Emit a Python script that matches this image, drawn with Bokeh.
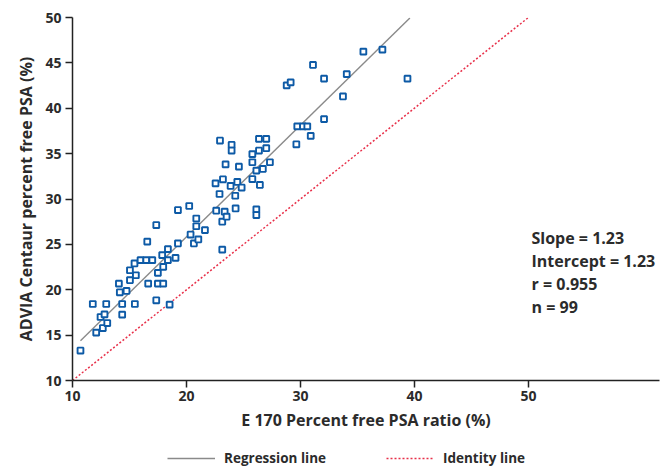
from bokeh.plotting import figure
from bokeh.layouts import column
from bokeh.models import Range1d, FixedTicker, Legend, LegendItem, Label, ColumnDataSource
from bokeh.embed import file_html
from bokeh.resources import INLINE

# ---- data ----
e170 = [10.7, 12.08, 12.66, 13.05, 12.46, 12.81, 11.78, 12.96, 14.36, 15.47,
        14.36, 14.15, 14.74, 14.07, 15.04, 15.56, 15.04, 15.44, 16.64, 17.49,
        17.96, 17.35, 18.52, 17.49, 17.96, 15.97, 16.47, 17.0, 17.87, 18.37,
        18.37, 19.04, 19.25, 16.56, 17.35, 19.25, 20.24, 20.86, 20.86, 20.36,
        20.65, 21.04, 21.62, 22.9, 22.61, 23.35, 23.14, 23.52, 23.14, 22.94,
        23.96, 23.96, 26.36, 27.0, 27.0, 26.36, 25.78, 25.78, 27.32, 26.7,
        26.13, 23.43, 24.6, 25.78, 26.44, 23.2, 22.55, 24.46, 23.87, 24.84,
        24.28, 24.31, 26.13, 26.13, 29.64, 29.72, 30.22, 30.6, 30.9, 32.07,
        33.73, 32.07, 31.1, 34.06, 35.52, 37.19, 39.39, 28.79, 29.14]
advia = [13.3, 15.27, 15.78, 16.33, 17.0, 17.29, 18.43, 18.43, 18.43, 18.43,
         17.26, 19.72, 19.87, 20.68, 21.05, 21.6, 22.15, 22.9, 20.68, 20.68,
         20.68, 18.84, 18.36, 21.86, 22.52, 23.26, 23.26, 23.26, 23.81, 24.48,
         23.26, 23.51, 25.1, 25.3, 27.13, 28.78, 29.23, 27.85, 27.0, 26.08,
         25.1, 25.54, 26.57, 30.55, 28.71, 28.6, 27.5, 28.05, 24.42, 36.44,
         35.97, 35.34, 36.63, 36.63, 35.6, 35.34, 34.94, 34.05, 34.05, 33.31,
         33.13, 33.82, 33.57, 32.2, 31.55, 32.17, 31.72, 31.88, 31.44, 31.26,
         30.36, 28.96, 28.86, 28.23, 36.03, 38.0, 38.0, 38.0, 36.96, 38.8,
         41.3, 43.26, 44.77, 43.76, 46.24, 46.46, 43.26, 42.52, 42.85]

slope = 1.23
intercept = 1.23
reg_x = [10.7, 39.6]
identity_x = [10, 50]

x_ticks = [10, 20, 30, 40, 50]
y_ticks = [10, 15, 20, 25, 30, 35, 40, 45, 50]
stats_lines = ["Slope = 1.23", "Intercept = 1.23", "r = 0.955", "n = 99"]

x_title = "E 170 Percent free PSA ratio (%)"
y_title = "ADVIA Centaur percent free PSA (%)"
legend_labels = ["Regression line", "Identity line"]

FONT = "Open Sans"
TXT = "#2b2b2b"
REG_COLOR = "#8a8a8a"
ID_COLOR = "#e8304a"

p = figure(width=660, height=437, output_backend="svg", toolbar_location=None,
           x_range=Range1d(10, 61.5), y_range=Range1d(10, 50),
           min_border_left=72, min_border_right=1, min_border_top=17,
           min_border_bottom=57)
p.outline_line_color = None
p.xgrid.visible = False
p.ygrid.visible = False
p.background_fill_color = "white"
p.border_fill_color = "white"

for ax in (p.xaxis[0], p.yaxis[0]):
    ax.axis_line_color = "#222222"
    ax.axis_line_width = 1.5
    ax.major_tick_line_color = "#222222"
    ax.major_tick_line_width = 1.5
    ax.major_tick_out = 7
    ax.major_tick_in = 0
    ax.minor_tick_line_color = None
    ax.major_label_text_font = FONT
    ax.major_label_text_font_size = "14px"
    ax.major_label_text_font_style = "bold"
    ax.major_label_text_color = TXT
    ax.axis_label_text_font = FONT
    ax.axis_label_text_font_size = "16px"
    ax.axis_label_text_font_style = "bold"
    ax.axis_label_text_color = TXT

p.xaxis[0].ticker = FixedTicker(ticks=x_ticks)
p.yaxis[0].ticker = FixedTicker(ticks=y_ticks)
p.xaxis[0].axis_label = x_title
p.yaxis[0].axis_label = y_title
p.xaxis[0].major_label_standoff = 3
p.yaxis[0].major_label_standoff = 4
p.xaxis[0].axis_label_standoff = 5
p.yaxis[0].axis_label_standoff = 5

reg_y = [slope * v + intercept for v in reg_x]
p.line(reg_x, reg_y, line_color=REG_COLOR, line_width=1.4)
p.line(identity_x, identity_x, line_color=ID_COLOR, line_width=1.5, line_dash="2 2")

src = ColumnDataSource(dict(x=e170, y=advia))
p.scatter("x", "y", source=src, marker="square", size=5.8, fill_color="white",
          line_color="#0d5aa6", line_width=1.9)

for i, s in enumerate(stats_lines):
    p.add_layout(Label(x=459, y=143 - 23.3 * i, x_units="screen", y_units="screen",
                       text=s, text_font=FONT, text_font_size="16px",
                       text_font_style="bold", text_color=TXT,
                       text_baseline="middle", text_align="left"))

# ---- legend strip below the chart ----
p2 = figure(width=660, height=30, output_backend="svg", toolbar_location=None,
            x_range=Range1d(0, 1), y_range=Range1d(0, 1),
            x_axis_type=None, y_axis_type=None, min_border=0)
p2.outline_line_color = None
p2.grid.visible = False
p2.background_fill_color = "white"
p2.border_fill_color = "white"
# sample lines kept outside the visible range; only their legend swatches show
l_reg = p2.line(x=[-5, -4], y=[-5, -5], line_color=REG_COLOR, line_width=1.4)
l_id = p2.line(x=[-5, -4], y=[-5, -5], line_color=ID_COLOR, line_width=1.5,
               line_dash="2 2")
legend = Legend(items=[LegendItem(label=legend_labels[0], renderers=[l_reg]),
                       LegendItem(label=legend_labels[1], renderers=[l_id])],
                orientation="horizontal", location=(95, 0),
                glyph_width=48, glyph_height=16, label_height=16,
                label_standoff=9, spacing=60, padding=0, margin=0,
                border_line_alpha=0, background_fill_alpha=0,
                label_text_font=FONT, label_text_font_size="13.5px",
                label_text_font_style="bold", label_text_color=TXT)
p2.add_layout(legend, "center")

layout = column(p, p2, spacing=0)
open("out.html", "w").write(file_html(layout, INLINE))
